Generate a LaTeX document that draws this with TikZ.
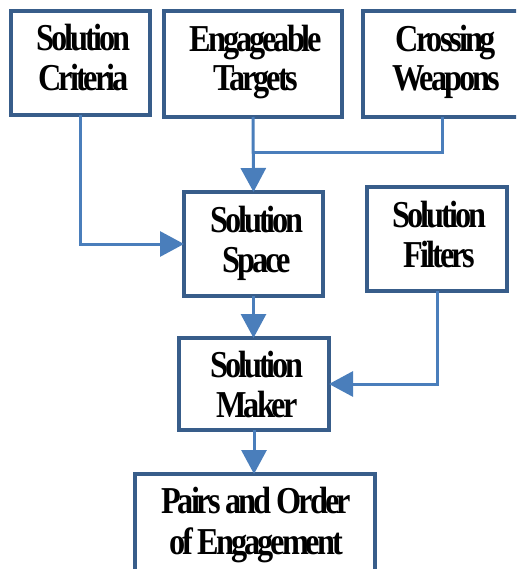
\documentclass[tikz,border=0pt]{standalone}
\usepackage{fontspec}
\usetikzlibrary{arrows.meta}
\newfontfamily\lblfont{Liberation Serif}[FakeStretch=0.85,LetterSpace=-8]
\definecolor{boxline}{HTML}{385D8A}
\definecolor{flowline}{HTML}{4A7EBB}
\begin{document}
\begin{tikzpicture}[x=1pt,y=-1pt,
  box/.style={draw=boxline,line width=3.5pt,fill=white,inner sep=0pt,outer sep=0pt},
  txt/.style={anchor=base,inner sep=0pt,
    font=\lblfont\bfseries\fontsize{38}{40}\selectfont},
  flow/.style={draw=flowline,line width=3pt,
    -{Triangle[length=24pt,width=25pt]}},
  link/.style={draw=flowline,line width=3pt}]
\useasboundingbox (0,0) rectangle (516,569);
\clip (0,0) rectangle (516,569);

% boxes
\node[box,minimum width=139pt,minimum height=104pt] (crit)  at (80.5,63)  {};
\node[box,minimum width=178pt,minimum height=106pt] (targ)  at (253,64)   {};
\node[box,minimum width=158pt,minimum height=106pt] (weap)  at (442,64)   {};
\node[box,minimum width=139pt,minimum height=104pt] (space) at (253.5,244) {};
\node[box,minimum width=140pt,minimum height=104pt] (filt)  at (437,239)  {};
\node[box,minimum width=150pt,minimum height=92pt]  (maker) at (254,384)  {};
\node[box,minimum width=240pt,minimum height=116pt] (pairs) at (255,532)  {};

% labels
\node[txt] (crit-a)  at (83.5,50.7)  {Solution};
\node[txt] (crit-b)  at (83.5,90.7)  {Criteria};
\node[txt] (targ-a)  at (256,51.7)   {Engageable};
\node[txt] (targ-b)  at (256,90.5)   {Targets};
\node[txt] (weap-a)  at (446,51.7)   {Crossing};
\node[txt] (weap-b)  at (446,90.5)   {Weapons};
\node[txt] (space-a) at (257,232)    {Solution};
\node[txt] (space-b) at (257,272)    {Space};
\node[txt] (filt-a)  at (439.5,227)  {Solution};
\node[txt] (filt-b)  at (439.5,267)  {Filters};
\node[txt] (maker-a) at (257,377)    {Solution};
\node[txt] (maker-b) at (257,417)    {Maker};
\node[txt] (pairs-a) at (256,513)    {Pairs and Order};
\node[txt] (pairs-b) at (256,554)    {of Engagement};

% connectors
\coordinate (join) at (targ.south |- 0,153);
\draw[link] (weap.south) |- (join);
\draw[flow] (targ.south) -- (space.north);
\draw[flow] (crit.south) |- (space.west);
\draw[flow] (space.south) -- (space.south |- maker.north);
\draw[flow] (filt.south) |- (maker.east);
\draw[flow] (maker.south) -- (maker.south |- pairs.north);
\end{tikzpicture}
\end{document}
